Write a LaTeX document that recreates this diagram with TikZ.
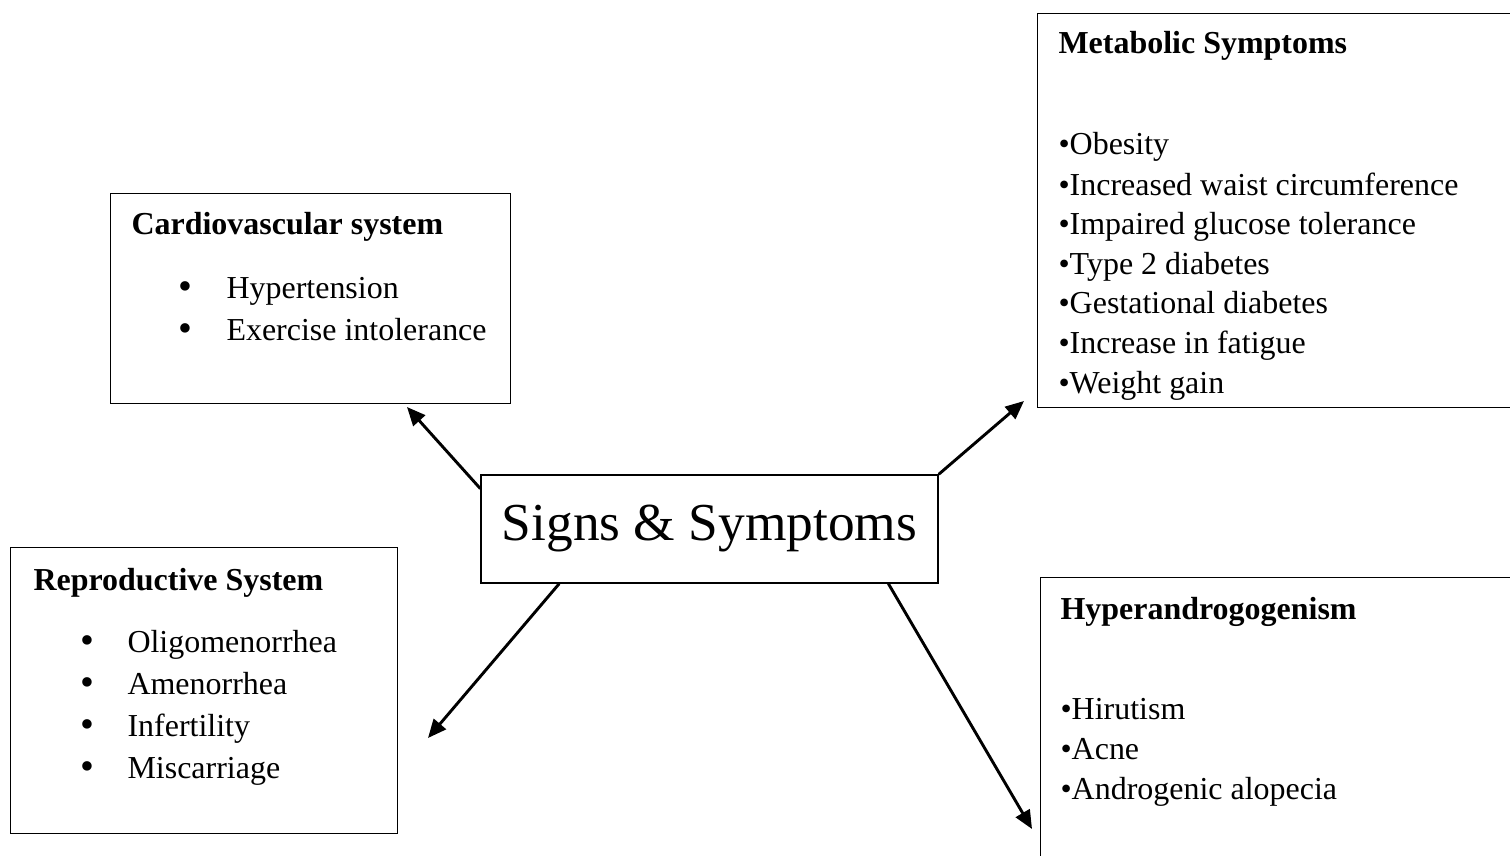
\documentclass[tikz,border=0pt]{standalone}
\usepackage{fontspec}
\setmainfont{Liberation Serif}
\usetikzlibrary{arrows.meta}

\tikzset{
  panel/.style={draw, line width=0.5pt, anchor=north west, inner sep=0pt},
  head/.style={anchor=base west, font=\fontsize{12.1}{14}\selectfont\bfseries, inner sep=0pt},
  item/.style={anchor=base west, font=\fontsize{12.1}{14}\selectfont, inner sep=0pt},
  dot/.style={anchor=base west, inner sep=0pt, font=\fontsize{15}{16}\selectfont},
  link/.style={-{Triangle[length=7pt,width=6pt]}, line width=1.1pt},
}

\begin{document}
\begin{tikzpicture}[x=0.3785pt, y=-0.3785pt]
\useasboundingbox (0,0) rectangle (1510,856);
\clip (0,0) rectangle (1510,856);

% boxes
\node[panel, minimum width=151.4pt, minimum height=79.5pt] (cardio) at (110,193) {};
\node[panel, minimum width=146.5pt, minimum height=108.3pt] (repro) at (10,547) {};
\node[panel, minimum width=189pt, minimum height=149.1pt] (metab) at (1037,13) {};
\node[panel, minimum width=189pt, minimum height=121pt] (hyper) at (1040,577) {};
\node[draw, line width=0.5pt, minimum width=173pt, minimum height=40.9pt, font=\fontsize{20.2}{24}\selectfont] (signs) at (709.5,529) {Signs \& Symptoms};

% cardiovascular
\node[head] (cardio-t) at (131,234) {Cardiovascular system};
\node[dot] (cardio-d1) at (178,299) {•};
\node[item] (cardio-i1) at (226,298) {Hypertension};
\node[dot] (cardio-d2) at (178,341) {•};
\node[item] (cardio-i2) at (226,340) {Exercise intolerance};

% reproductive
\node[head] (repro-t) at (33,590) {Reproductive System};
\node[dot] (repro-d1) at (80,653) {•};
\node[item] (repro-i1) at (127,652) {Oligomenorrhea};
\node[dot] (repro-d2) at (80,695) {•};
\node[item] (repro-i2) at (127,694) {Amenorrhea};
\node[dot] (repro-d3) at (80,737) {•};
\node[item] (repro-i3) at (127,736) {Infertility};
\node[dot] (repro-d4) at (80,779) {•};
\node[item] (repro-i4) at (127,778) {Miscarriage};

% metabolic
\node[head] (metab-t) at (1058,54) {Metabolic Symptoms};
\node[item] (metab-i1) at (1058,155) {•Obesity};
\node[item] (metab-i2) at (1058,195) {•Increased waist circumference};
\node[item] (metab-i3) at (1058,234) {•Impaired glucose tolerance};
\node[item] (metab-i4) at (1058,274) {•Type 2 diabetes};
\node[item] (metab-i5) at (1058,313) {•Gestational diabetes};
\node[item] (metab-i6) at (1058,353) {•Increase in fatigue};
\node[item] (metab-i7) at (1058,393) {•Weight gain};

% hyperandrogenism
\node[head] (hyper-t) at (1060,619) {Hyperandrogogenism};
\node[item] (hyper-i1) at (1060,719) {•Hirutism};
\node[item] (hyper-i2) at (1060,759) {•Acne};
\node[item] (hyper-i3) at (1060,799) {•Androgenic alopecia};

% arrows
\coordinate (cardio-tip) at (407,407);
\coordinate (metab-tip) at (1024,401);
\coordinate (repro-tip) at (428,738);
\coordinate (hyper-tip) at (1032,829);
\draw[link] (signs.170) -- (cardio-tip);
\draw[link] (signs.north east) -- (metab-tip);
\draw[link] (signs.200) -- (repro-tip);
\draw[link] (signs.343) -- (hyper-tip);
\end{tikzpicture}
\end{document}
